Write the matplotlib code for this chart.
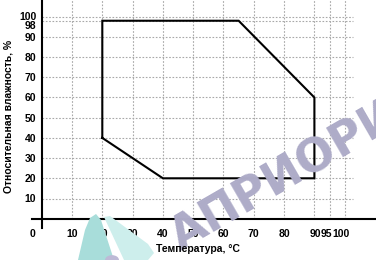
import matplotlib
matplotlib.use("Agg")
import matplotlib.pyplot as plt
import matplotlib.transforms as mtransforms
from matplotlib.patches import Polygon, Circle

# ---- data ----
zone_t = [20, 20, 65, 90, 90, 40, 20]      # temperature, °C
zone_rh = [40, 98, 98, 60, 20, 20, 40]     # relative humidity, %
x_ticks = [0, 10, 20, 30, 40, 50, 60, 70, 80, 90, 95, 100]
y_ticks = [10, 20, 30, 40, 50, 60, 70, 80, 90, 98, 100]
x_grid = [10, 20, 30, 40, 50, 60, 70, 80, 90, 95, 100]
y_grid = [10, 20, 30, 40, 50, 60, 70, 80, 90, 98, 100]
xlabel = "Температура, °C"
ylabel = "Относительная влажность, %"
watermark = "АПРИОРИ"

plt.rcParams['font.family'] = ['Liberation Sans', 'DejaVu Sans']

W, H = 376, 260
fig = plt.figure(figsize=(W / 100, H / 100), dpi=100)
fig.patch.set_facecolor('white')

# decorative watermark (logo)
def px(x, y):
    return (x / W, 1 - y / H)

leaf1 = Polygon([px(78, 260), px(85, 230), px(90, 218), px(96, 214),
                 px(101, 220), px(114, 260)], closed=True,
                transform=fig.transFigure, facecolor='#a8ddda',
                edgecolor='none', zorder=0)
leaf2 = Polygon([px(104, 217), px(110, 216), px(148, 244), px(154, 253),
                 px(148, 260), px(124, 260)], closed=True,
                transform=fig.transFigure, facecolor='#cdeeec',
                edgecolor='none', zorder=0)
fig.patches.extend([leaf1, leaf2])
circ = Circle(px(112, 260), 7 / W, transform=fig.transFigure,
              facecolor='#bdbad6', edgecolor='none', zorder=0)
fig.patches.append(circ)
fig.text(286 / W, 1 - 176 / H, watermark, rotation=30, rotation_mode='anchor',
         ha='center', va='center', fontsize=33, fontweight='bold',
         family='DejaVu Sans', color='#aeacc8', zorder=0)

ax = fig.add_axes([0, 0, 1, 1])
ax.patch.set_alpha(0)
x0, sx = 41.7, 3.03
y0, sy = 218.7, 2.02
ax.set_xlim(-x0 / sx, (W - x0) / sx)
ax.set_ylim((y0 - H) / sy, y0 / sy)
ytop = y0 / sy

grid_kw = dict(color='#a8a8a8', linestyle=(0, (1.5, 1.5)), linewidth=0.8, zorder=1)
ax.vlines(x_grid, 0, ytop, **grid_kw)
ax.hlines(y_grid, 0, (353 - x0) / sx, **grid_kw)

ax.plot(zone_t, zone_rh, color='black', linewidth=1.5, zorder=3,
        solid_joinstyle='miter')

for s in ['top', 'right']:
    ax.spines[s].set_visible(False)
ax.spines['left'].set_position(('data', 0))
ax.spines['bottom'].set_position(('data', 0))
ax.spines['left'].set_bounds((y0 - 228) / sy, ytop)
ax.spines['bottom'].set_bounds((32 - x0) / sx, (W - x0) / sx)
for s in ['left', 'bottom']:
    ax.spines[s].set_linewidth(1.5)
    ax.spines[s].set_zorder(4)

ax.set_xticks(x_ticks)
ax.set_xticklabels([str(v) for v in x_ticks])
ax.set_yticks(y_ticks)
ax.set_yticklabels([str(v) for v in y_ticks])
ax.tick_params(axis='both', length=0, labelsize=7.5)
ax.tick_params(axis='x', pad=7.5)
ax.tick_params(axis='y', pad=4)
for lab in ax.get_xticklabels() + ax.get_yticklabels():
    lab.set_fontweight('bold')

# small offsets for crowded labels
xoff = {0: -9, 90: 1, 95: -3, 100: -3.5}
for lab, v in zip(ax.get_xticklabels(), x_ticks):
    if v in xoff:
        lab.set_transform(lab.get_transform() +
                          mtransforms.ScaledTranslation(xoff[v] / 100, 0, fig.dpi_scale_trans))
yoff = {98: -4, 100: 1}
for lab, v in zip(ax.get_yticklabels(), y_ticks):
    if v in yoff:
        lab.set_transform(lab.get_transform() +
                          mtransforms.ScaledTranslation(0, yoff[v] / 100, fig.dpi_scale_trans))

fig.text(198 / W, 1 - 249 / H, xlabel, ha='center', va='center',
         fontsize=7.5, fontweight='bold')
fig.text(9 / W, 1 - 116 / H, ylabel, ha='center', va='center', rotation=90,
         fontsize=7.5, fontweight='bold')

fig.savefig('out.png', dpi=100)
